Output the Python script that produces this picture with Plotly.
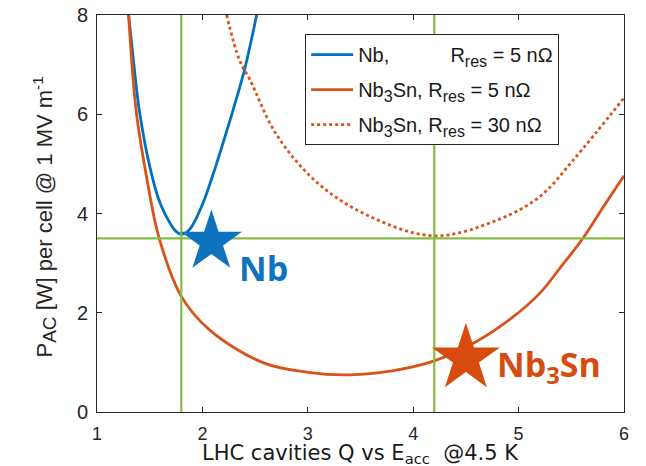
import plotly.graph_objects as go

# ---- data ----
nb_x = [1.30, 1.35, 1.40, 1.50, 1.60, 1.70, 1.75, 1.80, 1.85, 1.90, 2.00, 2.10, 2.20, 2.30, 2.40, 2.515]
nb_y = [8.00, 7.00, 6.10, 4.95, 4.20, 3.78, 3.64, 3.58, 3.62, 3.74, 4.18, 4.78, 5.45, 6.15, 6.90, 8.00]

sn5_x = [1.30, 1.37, 1.47, 1.59, 1.80, 2.07, 2.58, 3.00, 3.40, 3.80, 4.20, 4.60, 4.95, 5.20, 5.40, 5.61, 5.80, 6.00]
sn5_y = [8.00, 6.10, 4.74, 3.50, 2.33, 1.65, 0.99, 0.80, 0.75, 0.83, 1.03, 1.42, 1.92, 2.39, 2.92, 3.50, 4.12, 4.76]

sn30_x = [2.23, 2.35, 2.45, 2.70, 3.08, 3.56, 4.20, 4.80, 5.20, 5.52, 6.00]
sn30_y = [8.00, 7.10, 6.70, 5.60, 4.64, 3.97, 3.55, 3.87, 4.34, 5.08, 6.33]

vlines_x = [1.8, 4.2]
hline_y = [3.5]

star_nb = (2.085, 3.43)
star_sn = (4.50, 1.08)
label_nb = (2.58, 2.91)
label_sn = (5.29, 0.93)

x_ticks = [1, 2, 3, 4, 5, 6]
y_ticks = [0, 2, 4, 6, 8]

BLUE = "#0072BD"
ORANGE = "#D95319"
GREEN = "#86BB4A"
AX = "#262626"
NBSP = "\u00a0"


def sub(t, px):
    return "<sub><span style='font-size:%dpx'>%s</span></sub>" % (px, t)


fig = go.Figure()

fig.add_trace(go.Scatter(x=nb_x, y=nb_y, mode="lines", line=dict(color=BLUE, width=2.8, shape="spline"),
                         name="Nb," + NBSP * 11 + "R" + sub("res", 16) + " = 5 nΩ", legendgroup="a"))
fig.add_trace(go.Scatter(x=sn5_x, y=sn5_y, mode="lines", line=dict(color=ORANGE, width=2.8, shape="spline"),
                         name="Nb" + sub("3", 16) + "Sn, R" + sub("res", 16) + " = 5 nΩ", legendgroup="b"))
fig.add_trace(go.Scatter(x=sn30_x, y=sn30_y, mode="lines", line=dict(color=ORANGE, width=2.8, shape="spline", dash="dot"),
                         name="Nb" + sub("3", 16) + "Sn, R" + sub("res", 16) + " = 30 nΩ", legendgroup="c"))

for xv in vlines_x:
    fig.add_trace(go.Scatter(x=[xv, xv], y=[y_ticks[0], y_ticks[-1]], mode="lines",
                             line=dict(color=GREEN, width=2.2), showlegend=False, hoverinfo="skip"))
for yv in hline_y:
    fig.add_trace(go.Scatter(x=[x_ticks[0], x_ticks[-1]], y=[yv, yv], mode="lines",
                             line=dict(color=GREEN, width=2.2), showlegend=False, hoverinfo="skip"))

fig.add_trace(go.Scatter(x=[star_nb[0]], y=[star_nb[1]], mode="markers",
                         marker=dict(symbol="star", size=46, color="#0E72BE", line=dict(width=0)),
                         showlegend=False, hoverinfo="skip"))
fig.add_trace(go.Scatter(x=[star_sn[0]], y=[star_sn[1]], mode="markers",
                         marker=dict(symbol="star", size=51, color="#D84B0E", line=dict(width=0)),
                         showlegend=False, hoverinfo="skip"))

fig.add_annotation(x=label_nb[0], y=label_nb[1], text="<b>Nb</b>", showarrow=False,
                   font=dict(family="Open Sans", size=34, color="#0E72BE"), xanchor="center", yanchor="middle")
fig.add_annotation(x=label_sn[0], y=label_sn[1], text="<b>Nb<sub>3</sub>Sn</b>", showarrow=False,
                   font=dict(family="Open Sans", size=34, color="#D84B0E"), xanchor="center", yanchor="middle")

# axis titles
fig.add_annotation(xref="paper", yref="paper", x=0.5, y=0, yshift=-27, xanchor="center", yanchor="top",
                   text="LHC cavities Q vs E<sub>acc</sub>" + NBSP * 2 + "@4.5 K", showarrow=False,
                   font=dict(family="DejaVu Sans", size=21, color="#1a1a1a"))
fig.add_annotation(xref="paper", yref="paper", x=0, xshift=-53, y=0.5, yshift=-4, xanchor="center", yanchor="middle",
                   textangle=-90, text="P" + sub("AC", 19) + " [W] per cell @ 1 MV m<sup>-1</sup>", showarrow=False,
                   font=dict(family="Liberation Sans", size=22, color=AX))

fig.update_xaxes(range=[1, 6], tickvals=x_ticks, ticks="inside", ticklen=5, tickcolor=AX,
                 showline=True, linecolor=AX, linewidth=1, mirror="ticks", showgrid=False, zeroline=False,
                 tickfont=dict(family="Liberation Sans", size=18, color=AX), ticklabelstandoff=5)
fig.update_yaxes(range=[0, 8], tickvals=y_ticks, ticks="inside", ticklen=5, tickcolor=AX,
                 showline=True, linecolor=AX, linewidth=1, mirror="ticks", showgrid=False, zeroline=False,
                 tickfont=dict(family="Liberation Sans", size=20, color=AX), ticklabelstandoff=4)

fig.update_layout(
    width=646, height=466,
    margin=dict(l=97, r=22, t=15, b=54, autoexpand=False),
    plot_bgcolor="white", paper_bgcolor="white",
    showlegend=True,
    legend=dict(x=0.395, y=0.952, xanchor="left", yanchor="top", bgcolor="white",
                bordercolor=AX, borderwidth=1, traceorder="grouped", tracegroupgap=6, itemwidth=42,
                font=dict(family="Liberation Sans", size=20, color="#1a1a1a")),
)

fig.write_html("out.html", config={"displayModeBar": False},
               post_script="document.body.style.margin='0';document.body.style.overflow='hidden';")
